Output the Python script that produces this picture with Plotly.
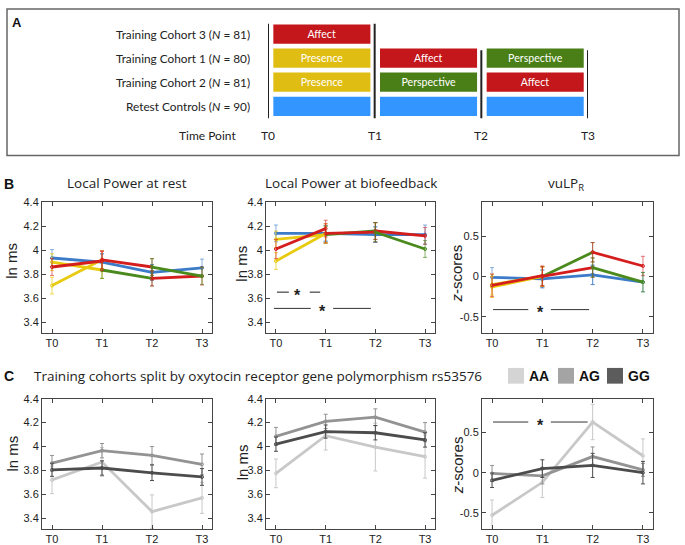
import plotly.graph_objects as go

W, H = 685, 545

timepoints = ["T0", "T1", "T2", "T3"]

# training module per interval (T0-T1, T1-T2, T2-T3)
mod_rc = ["Control", "Control", "Control"]
mod_tc1 = ["Presence", "Affect", "Perspective"]
mod_tc2 = ["Presence", "Perspective", "Affect"]
mod_tc3 = ["Affect"]

cohort_labels = ["Retest Controls (<i>N</i> = 90)",
                 "Training Cohort 2 (<i>N</i> = 81)",
                 "Training Cohort 1 (<i>N</i> = 80)",
                 "Training Cohort 3 (<i>N</i> = 81)"]

# B - local power at rest (ln ms)
rest_rc = [3.935, 3.90, 3.815, 3.853]
rest_rc_se = [0.07, 0.07, 0.065, 0.073]
rest_tc1 = [3.705, 3.92, 3.86, 3.785]
rest_tc1_se = [0.07, 0.075, 0.07, 0.07]
rest_tc2 = [3.90, 3.835, 3.765, 3.785]
rest_tc2_se = [0.07, 0.07, 0.063, 0.075]
rest_tc3 = [3.86, 3.91]
rest_tc3_se = [0.07, 0.08]

# B - local power at biofeedback (ln ms)
bio_rc = [4.14, 4.14, 4.13, 4.13]
bio_rc_se = [0.07, 0.065, 0.065, 0.08]
bio_tc1 = [3.91, 4.14, 4.15, 4.01]
bio_tc1_se = [0.07, 0.08, 0.08, 0.07]
bio_tc2 = [4.09, 4.13, 4.16, 4.12]
bio_tc2_se = [0.07, 0.07, 0.07, 0.07]
bio_tc3 = [4.01, 4.18]
bio_tc3_se = [0.08, 0.07]

# B - vuLP_R (z-scores)
vu_rc = [-0.01, -0.03, 0.02, -0.07]
vu_rc_se = [0.12, 0.11, 0.12, 0.12]
vu_tc1 = [-0.13, 0.0, 0.11, -0.07]
vu_tc1_se = [0.13, 0.12, 0.12, 0.12]
vu_tc2 = [-0.10, 0.0, 0.30, 0.13]
vu_tc2_se = [0.13, 0.12, 0.12, 0.12]
vu_tc3 = [-0.11, 0.01]
vu_tc3_se = [0.14, 0.12]

# C - split by OXTR rs53576 genotype
genotypes = ["AA", "AG", "GG"]
c_rest_aa = [3.72, 3.87, 3.455, 3.57]
c_rest_aa_se = [0.115, 0.12, 0.14, 0.13]
c_rest_ag = [3.86, 3.965, 3.925, 3.85]
c_rest_ag_se = [0.065, 0.06, 0.075, 0.087]
c_rest_gg = [3.805, 3.82, 3.78, 3.745]
c_rest_gg_se = [0.055, 0.06, 0.065, 0.07]

c_bio_aa = [3.775, 4.09, 3.995, 3.915]
c_bio_aa_se = [0.12, 0.12, 0.20, 0.18]
c_bio_ag = [4.085, 4.21, 4.245, 4.12]
c_bio_ag_se = [0.075, 0.06, 0.07, 0.08]
c_bio_gg = [4.02, 4.125, 4.115, 4.055]
c_bio_gg_se = [0.06, 0.055, 0.06, 0.06]

c_vu_aa = [-0.53, -0.12, 0.63, 0.21]
c_vu_aa_se = [0.19, 0.19, 0.22, 0.21]
c_vu_ag = [-0.01, -0.04, 0.20, 0.035]
c_vu_ag_se = [0.10, 0.10, 0.12, 0.08]
c_vu_gg = [-0.095, 0.05, 0.09, 0.0]
c_vu_gg_se = [0.09, 0.11, 0.15, 0.14]

ln_ticks = [3.4, 3.6, 3.8, 4.0, 4.2, 4.4]
ln_ticktext = ["3.4", "3.6", "3.8", "4", "4.2", "4.4"]
z_ticks = [-0.5, 0, 0.5]
z_ticktext = ["-0.5", "0", "0.5"]

LINE_COL = {"Presence": "#E8CB10", "Affect": "#D41E1E", "Perspective": "#4A8A1C", "Control": "#3B7BC8"}
ERR_COL = {"Presence": "rgba(232,203,16,0.7)", "Affect": "rgba(212,30,30,0.6)",
           "Perspective": "rgba(74,138,28,0.65)", "Control": "rgba(59,123,200,0.6)"}
BOX_COL = {"Presence": "#DFBD13", "Affect": "#C4171B", "Perspective": "#4A7F18", "Control": "#3395FF"}
GEN_COL = {"AA": "#C8C8C8", "AG": "#939393", "GG": "#4C4C4C"}
GEN_BOX = {"AA": "#D4D4D4", "AG": "#A4A4A4", "GG": "#5C5C5C"}

TITLE_FONT = "Open Sans"
LABEL_FONT = "Lato"
TICK_FONT = "Liberation Sans, Arial"


def px(x):
    return x / W


def py(y):
    return 1 - y / H


fig = go.Figure()


def add_group(vals, se, mods, n):
    xa, ya = "x%d" % n, "y%d" % n
    for k, m in enumerate(mods):
        fig.add_trace(go.Scatter(
            x=timepoints[k:k + 2], y=vals[k:k + 2],
            mode="lines+markers",
            line=dict(color=LINE_COL[m], width=2.8),
            marker=dict(size=3, symbol="circle-open", color=LINE_COL[m]),
            error_y=dict(type="data", array=se[k:k + 2], color=ERR_COL[m], thickness=1, width=2),
            xaxis=xa, yaxis=ya, showlegend=False, hoverinfo="skip"))


def add_genotype(vals, se, g, n):
    fig.add_trace(go.Scatter(
        x=timepoints, y=vals, mode="lines+markers",
        line=dict(color=GEN_COL[g], width=2.8),
        marker=dict(size=3, symbol="circle-open", color=GEN_COL[g]),
        error_y=dict(type="data", array=se, color=GEN_COL[g], thickness=1, width=2),
        xaxis="x%d" % n, yaxis="y%d" % n, showlegend=False, hoverinfo="skip"))


# panel B
for n, data in [(1, [(rest_rc, rest_rc_se, mod_rc), (rest_tc2, rest_tc2_se, mod_tc2),
                     (rest_tc1, rest_tc1_se, mod_tc1), (rest_tc3, rest_tc3_se, mod_tc3)]),
                (2, [(bio_rc, bio_rc_se, mod_rc), (bio_tc2, bio_tc2_se, mod_tc2),
                     (bio_tc1, bio_tc1_se, mod_tc1), (bio_tc3, bio_tc3_se, mod_tc3)]),
                (3, [(vu_rc, vu_rc_se, mod_rc), (vu_tc2, vu_tc2_se, mod_tc2),
                     (vu_tc1, vu_tc1_se, mod_tc1), (vu_tc3, vu_tc3_se, mod_tc3)])]:
    for vals, se, mods in data:
        add_group(vals, se, mods, n)

# panel C
for n, data in [(4, [(c_rest_aa, c_rest_aa_se), (c_rest_ag, c_rest_ag_se), (c_rest_gg, c_rest_gg_se)]),
                (5, [(c_bio_aa, c_bio_aa_se), (c_bio_ag, c_bio_ag_se), (c_bio_gg, c_bio_gg_se)]),
                (6, [(c_vu_aa, c_vu_aa_se), (c_vu_ag, c_vu_ag_se), (c_vu_gg, c_vu_gg_se)])]:
    for g, (vals, se) in zip(genotypes, data):
        add_genotype(vals, se, g, n)

# panel A: study design bars
rows_a = [mod_rc, mod_tc2, mod_tc1, mod_tc3]
for row, mods in enumerate(rows_a):
    bar = go.Bar(
        orientation="h", y=[row] * len(mods), base=[k + 0.05 for k in range(len(mods))],
        x=[0.91] * len(mods), width=0.8,
        marker=dict(color=[BOX_COL[m] for m in mods], line=dict(width=0)),
        xaxis="x7", yaxis="y7", showlegend=False, hoverinfo="skip")
    if mods != mod_rc:
        bar.update(text=mods, textposition="inside", insidetextanchor="middle", textangle=0,
                   textfont=dict(color="white", size=12, family=LABEL_FONT))
    fig.add_trace(bar)

# axes
B_Y = [py(332.5), py(199.5)]
C_Y = [py(531.7), py(399.3)]
X_DOM = [[px(42), px(212)], [px(266), px(435)], [px(482), px(653)]]


def xaxis_style(dom, anchor):
    return dict(domain=dom, anchor=anchor, type="category", range=[-0.2, 3.2],
                showline=True, mirror="ticks", linecolor="#444", linewidth=1,
                ticks="inside", ticklen=4, tickcolor="#444", showgrid=False, zeroline=False,
                tickfont=dict(family=TICK_FONT, size=11, color="#222"))


def yaxis_style(dom, anchor, ln):
    return dict(domain=dom, anchor=anchor,
                range=[3.31, 4.4] if ln else [-0.70, 0.92],
                tickvals=ln_ticks if ln else z_ticks,
                ticktext=ln_ticktext if ln else z_ticktext,
                showline=True, mirror="ticks", linecolor="#444", linewidth=1,
                ticks="inside", ticklen=4, tickcolor="#444", showgrid=False, zeroline=False,
                tickfont=dict(family=TICK_FONT, size=11, color="#222"))


layout_axes = {}
for i in range(6):
    n = i + 1
    dom_y = B_Y if i < 3 else C_Y
    key = "" if n == 1 else str(n)
    layout_axes["xaxis" + key] = xaxis_style(X_DOM[i % 3], "y" + key)
    layout_axes["yaxis" + key] = yaxis_style(dom_y, "x" + key, i % 3 != 2)

layout_axes["xaxis7"] = dict(domain=[px(268), px(588)], anchor="y7", range=[0, 3], visible=False)
layout_axes["yaxis7"] = dict(domain=[py(114.25), py(16.25)], anchor="x7", range=[-0.5, 3.5], visible=False)

shapes = []
# panel A frame
shapes.append(dict(type="rect", xref="paper", yref="paper", x0=px(7), x1=px(679), y0=py(152), y1=py(3),
                   line=dict(color="#666", width=1.5), fillcolor="rgba(0,0,0,0)"))
# time point separators
for t in range(4):
    top = 3.43 if t < 2 else 2.33
    shapes.append(dict(type="line", xref="x7", yref="y7", x0=t, x1=t, y0=-0.62, y1=top,
                       line=dict(color="#222", width=2)))

# significance bars
sig_col = "#333"
shapes += [
    dict(type="line", xref="x2", yref="y2", x0=0.02, x1=0.26, y0=3.65, y1=3.65, line=dict(color="#666", width=1.5)),
    dict(type="line", xref="x2", yref="y2", x0=0.68, x1=0.89, y0=3.65, y1=3.65, line=dict(color="#666", width=1.5)),
    dict(type="line", xref="x2", yref="y2", x0=-0.04, x1=0.70, y0=3.515, y1=3.515, line=dict(color=sig_col, width=1)),
    dict(type="line", xref="x2", yref="y2", x0=1.15, x1=1.91, y0=3.515, y1=3.515, line=dict(color=sig_col, width=1)),
    dict(type="line", xref="x3", yref="y3", x0=0.02, x1=0.72, y0=-0.41, y1=-0.41, line=dict(color=sig_col, width=1)),
    dict(type="line", xref="x3", yref="y3", x0=1.17, x1=1.93, y0=-0.41, y1=-0.41, line=dict(color=sig_col, width=1)),
    dict(type="line", xref="x6", yref="y6", x0=0.02, x1=0.72, y0=0.63, y1=0.63, line=dict(color=sig_col, width=1)),
    dict(type="line", xref="x6", yref="y6", x0=1.17, x1=1.90, y0=0.63, y1=0.63, line=dict(color=sig_col, width=1)),
]

# genotype legend boxes
legend_x = {"AA": 508, "AG": 558, "GG": 607}
for g in genotypes:
    shapes.append(dict(type="rect", xref="paper", yref="paper", x0=px(legend_x[g]), x1=px(legend_x[g] + 16),
                       y0=py(384), y1=py(368), line=dict(width=0), fillcolor=GEN_BOX[g]))

annotations = []


def note(text, x, y, size=13, family=TITLE_FONT, xanchor="center", color="#222", angle=0, bold=False, **kw):
    if bold:
        text = "<b>" + text + "</b>"
    annotations.append(dict(text=text, x=x, y=y, xanchor=xanchor, yanchor="middle", showarrow=False,
                            textangle=angle, font=dict(size=size, family=family, color=color), **kw))


# panel letters
note("A", px(17), py(17), size=13, family="Liberation Sans, Arial", xref="paper", yref="paper", bold=True, color="#111")
note("B", px(9), py(181), size=14, family="Liberation Sans, Arial", xref="paper", yref="paper", bold=True, color="#111")
note("C", px(9), py(376), size=14, family="Liberation Sans, Arial", xref="paper", yref="paper", bold=True, color="#111")

# panel A labels
for row, lab in enumerate(cohort_labels):
    note(lab, px(252), row, size=11.8, family=LABEL_FONT, xanchor="right", xref="paper", yref="y7")
note("Time Point", px(207), py(132), size=12, family=LABEL_FONT, xref="paper", yref="paper")
for t, lab in enumerate(timepoints):
    note(lab, t, py(132), size=12, family=LABEL_FONT, xref="x7", yref="paper")

# panel titles
note("Local Power at rest", px(127), py(180), size=13.5, xref="paper", yref="paper")
note("Local Power at biofeedback", px(351), py(180), size=13.5, xref="paper", yref="paper")
note("vuLP<sub>R</sub>", px(566), py(181), size=13.5, xref="paper", yref="paper")
note("Training cohorts split by oxytocin receptor gene polymorphism rs53576", px(32), py(376),
     size=13.5, xanchor="left", xref="paper", yref="paper")
for g in genotypes:
    note(g, px(legend_x[g] + 19), py(376), size=14, family="Liberation Sans, Arial", xanchor="left",
         xref="paper", yref="paper", bold=True, color="#111")

# axis titles
for x, y, t in [(12, 259, "ln ms"), (242, 262, "ln ms"), (457, 272, "<i>z</i>-scores"),
                (12, 455, "ln ms"), (242, 464, "ln ms"), (457, 467, "<i>z</i>-scores")]:
    note(t, px(x), py(y), size=15, family="Liberation Sans, Arial", angle=-90, xref="paper", yref="paper")

# significance stars
for xa, xv, yv in [("2", 0.44, 3.65), ("2", 0.93, 3.515), ("3", 0.97, -0.41), ("6", 0.97, 0.63)]:
    note("*", xv, yv, size=16, family="Liberation Sans, Arial", xref="x" + xa, yref="y" + xa, bold=True,
         color="#222", yshift=-3)

fig.update_layout(
    width=W, height=H, margin=dict(l=0, r=0, t=0, b=0),
    paper_bgcolor="white", plot_bgcolor="white",
    barmode="overlay", shapes=shapes, annotations=annotations,
    **layout_axes)

# the page body has a default margin; drop it so the figure sits at the window corner
fig.write_html("out.html", config={"displayModeBar": False},
               post_script="document.body.style.margin='0px';")
